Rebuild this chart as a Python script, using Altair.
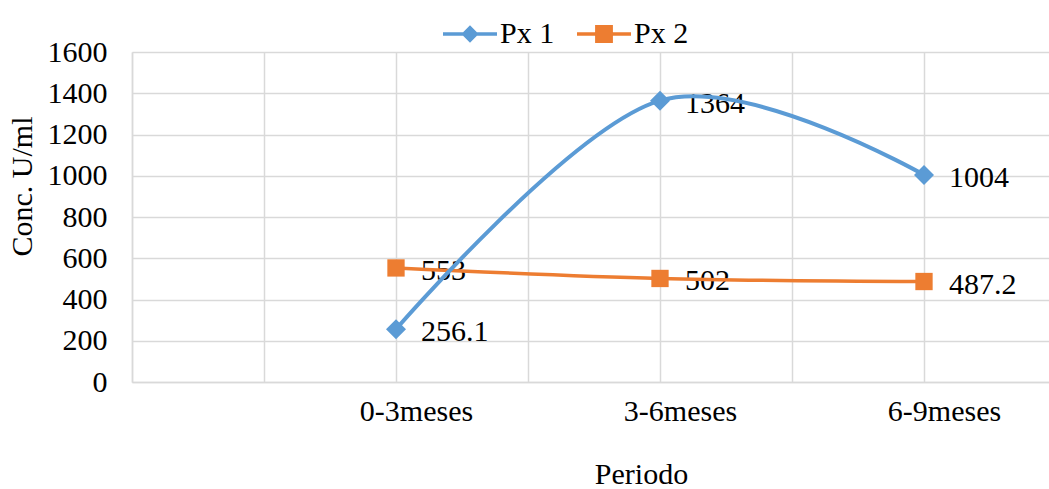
import altair as alt
import pandas as pd

categories = ["0-3meses", "3-6meses", "6-9meses"]
px1 = [256.1, 1364, 1004]
px2 = [553, 502, 487.2]
series_names = ["Px 1", "Px 2"]
colors = ["#5B9BD5", "#ED7D31"]

rows = []
for name, vals in zip(series_names, [px1, px2]):
    for i, (c, v) in enumerate(zip(categories, vals)):
        rows.append({"series": name, "periodo": c, "pos": 2 * (i + 1), "value": v,
                     "label": f"{v:g}"})
df = pd.DataFrame(rows)

FONT = "Liberation Serif"
FS = 30
GRID = "#D9D9D9"

label_expr = " : ".join(
    [f"datum.value == {2 * (i + 1)} ? '{c}'" for i, c in enumerate(categories)]
) + " : ''"

x = alt.X(
    "pos:Q",
    scale=alt.Scale(domain=[0, 6.947], nice=False, zero=False),
    axis=alt.Axis(
        values=list(range(0, 7)),
        grid=True,
        gridColor=GRID,
        gridWidth=1.5,
        domainColor=GRID,
        domainWidth=1.5,
        ticks=False,
        labelExpr=label_expr,
        labelFont=FONT,
        labelFontSize=FS,
        labelColor="#000000",
        labelBaseline="alphabetic",
        labelPadding=38,
        labelOffset=20,
        labelOverlap=False,
        labelFlush=False,
        title="Periodo",
        titleFont=FONT,
        titleFontSize=FS,
        titleFontWeight="normal",
        titleColor="#000000",
        titleX=509,
        titleY=101,
        titleBaseline="alphabetic",
        titleAlign="center",
    ),
)
y = alt.Y(
    "value:Q",
    scale=alt.Scale(domain=[0, 1600], nice=False),
    axis=alt.Axis(
        values=list(range(0, 1601, 200)),
        format="d",
        grid=True,
        gridColor=GRID,
        gridWidth=1.5,
        domainColor=GRID,
        domainWidth=1.5,
        ticks=False,
        labelFont=FONT,
        labelFontSize=FS,
        labelColor="#000000",
        labelPadding=25,
        labelBaseline="middle",
        labelFlush=False,
        title="Conc. U/ml",
        titleFont=FONT,
        titleFontSize=FS,
        titleFontWeight="normal",
        titleColor="#000000",
        titleAngle=-90,
        titleX=-110,
        titleY=134,
        titleAlign="center",
        titleBaseline="middle",
    ),
)

color_scale = alt.Scale(domain=series_names, range=colors)

base = alt.Chart(df)

labels = base.mark_text(align="left", baseline="middle", dx=25, dy=3,
                        font=FONT, fontSize=FS, color="#000000").encode(
    x=x, y=y, text="label:N"
)

line_layers = []
for name, w in [("Px 2", 3.5), ("Px 1", 4)]:
    line_layers.append(
        base.transform_filter(alt.datum.series == name)
        .mark_line(strokeWidth=w, interpolate="cardinal", tension=0)
        .encode(x=x, y=y, color=alt.Color("series:N", scale=color_scale, legend=None))
    )

markers = base.mark_point(filled=True, opacity=1, size=320).encode(
    x=x, y=y,
    color=alt.Color("series:N", scale=color_scale, legend=None),
    shape=alt.Shape("series:N", scale=alt.Scale(domain=series_names, range=["diamond", "square"]), legend=None),
    size=alt.Size("series:N", scale=alt.Scale(domain=series_names, range=[400, 300]), legend=None),
)

line_path = "M-1,-0.065L1,-0.065L1,0.065L-1,0.065Z"
diamond_path = line_path + "M-0.32,0L0,-0.32L0.32,0L0,0.32Z"
square_path = line_path + "M-0.33,-0.33L0.33,-0.33L0.33,0.33L-0.33,0.33Z"

leg = dict(title=None, orient="none", direction="horizontal",
           legendX=311, legendY=-45,
           symbolSize=2916, symbolStrokeWidth=0,
           labelFont=FONT, labelFontSize=FS, labelColor="#000000",
           labelOffset=3, columnPadding=22, symbolOpacity=1)

legend_layer = base.transform_filter("false").mark_point(filled=True, opacity=1).encode(
    x=x, y=y,
    color=alt.Color("series:N", scale=color_scale, legend=alt.Legend(**leg)),
    shape=alt.Shape("series:N", scale=alt.Scale(domain=series_names, range=[diamond_path, square_path]),
                    legend=alt.Legend(**leg)),
)

chart = alt.layer(labels, *line_layers, markers, legend_layer).resolve_scale(
    shape="independent", color="independent", size="independent"
).properties(
    width=917,
    height=330,
    autosize=alt.AutoSizeParams(type="none"),
    padding={"left": 132, "top": 52, "right": 0, "bottom": 107},
    background="#FFFFFF",
).configure_view(stroke="transparent")

chart.save("out.html", embed_options={"renderer": "svg", "actions": False})
